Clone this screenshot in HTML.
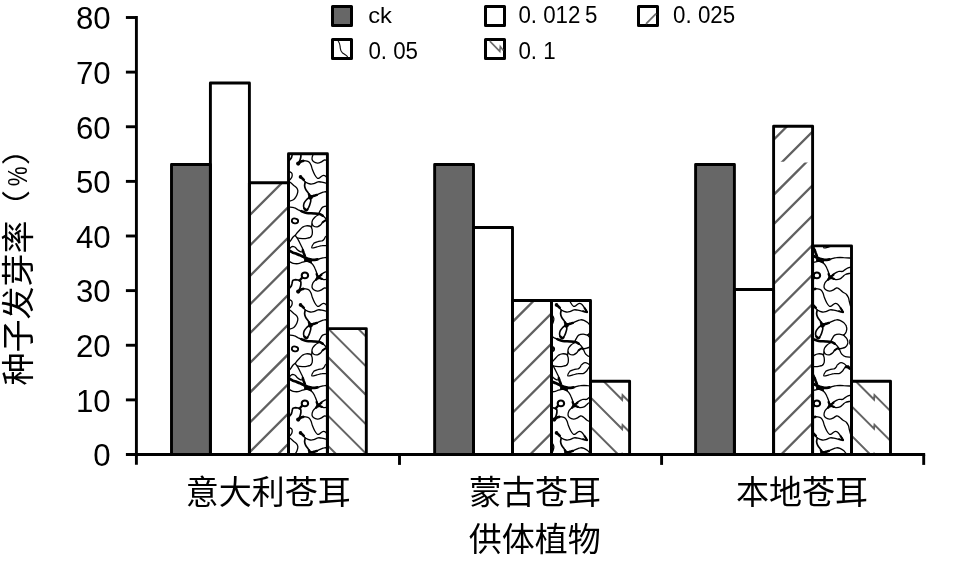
<!DOCTYPE html>
<html lang="zh"><head><meta charset="utf-8"><title>种子发芽率</title>
<style>html,body{margin:0;padding:0;background:#fff}body{width:955px;height:562px;overflow:hidden}svg{display:block}.n{font-family:"Liberation Sans",sans-serif;fill:#000}.c{font-family:"Liberation Sans","Noto Sans CJK SC","WenQuanYi Zen Hei",sans-serif;fill:#000}</style></head><body>
<svg width="955" height="562" viewBox="0 0 955 562">
<rect width="955" height="562" fill="#fff"/>
<defs>
<pattern id="marble" patternUnits="userSpaceOnUse" x="256" y="198" width="128" height="128"><rect width="128" height="128" fill="#fff"/><g transform="translate(-256 -198)"><g id="mb" fill="none" stroke="#000" stroke-linecap="round" stroke-linejoin="round">
<path d="M309.3 197.6C308.6 197.6 307.4 198.8 306.5 199.7C305.6 200.6 304.7 201.8 304.2 202.9C303.7 204.1 303.5 205.4 303.6 206.5C303.7 207.6 304.2 208.9 304.7 209.5C305.2 210.1 306.0 210.6 306.7 210.2C307.3 209.9 308.1 208.5 308.7 207.4C309.3 206.2 309.9 204.5 310.2 203.3C310.6 202.1 310.9 201.0 310.8 200.0C310.6 199.1 310.1 197.6 309.3 197.6Z" stroke-width="1.6"/>
<path d="M304.5 208.5C304.7 208.7 305.3 209.9 305.8 210.1C306.3 210.2 307.1 209.6 307.4 209.5" stroke-width="2.4"/>
<path d="M310.5 324.8C311.1 324.6 313.1 324.1 314.2 323.8C315.4 323.4 316.4 323.1 317.4 322.7C318.3 322.3 319.0 321.9 320.2 321.4C321.4 320.9 323.0 319.9 324.3 319.8C325.6 319.6 326.8 319.8 328.0 320.3C329.2 320.8 330.6 321.7 331.6 322.5C332.6 323.3 333.3 324.5 333.8 325.2C334.3 325.9 334.3 326.1 334.4 326.7C334.6 327.3 334.8 328.0 334.8 328.9C334.7 329.8 334.4 331.1 334.1 332.0C333.7 332.9 333.1 333.7 332.7 334.2C332.2 334.8 331.8 335.0 331.6 335.1" stroke-width="1.3"/>
<path d="M310.5 324.8C311.1 324.6 313.2 324.1 314.2 323.8C315.3 323.5 316.5 323.0 316.9 322.9" stroke-width="2.3"/>
<path d="M331.6 207.1C330.8 207.0 328.6 206.2 327.1 206.2C325.7 206.2 323.8 206.5 322.7 207.1C321.6 207.8 321.1 209.2 320.5 210.2C319.8 211.3 319.0 213.1 318.7 213.6" stroke-width="1.3"/>
<path d="M289.3 207.0C290.1 207.1 292.3 207.1 293.8 207.6C295.3 208.0 296.8 209.0 298.2 209.8C299.7 210.5 301.3 211.5 302.7 212.0C304.1 212.5 304.8 212.7 306.7 212.9C308.5 213.1 311.8 213.3 313.8 213.4C315.8 213.6 317.2 213.6 318.7 214.0C320.2 214.3 321.5 214.8 322.7 215.6C323.9 216.4 325.0 217.6 325.8 218.7C326.6 219.7 326.9 220.5 327.6 221.8C328.3 223.1 328.8 225.1 329.8 226.2C330.8 227.4 331.9 228.3 333.4 228.7C334.8 229.2 337.8 229.0 338.7 229.1" stroke-width="1.3"/>
<path d="M301.3 211.1C302.2 211.4 304.6 212.5 306.7 212.9C308.8 213.3 311.7 213.2 313.8 213.4C315.9 213.6 317.8 213.7 319.3 214.1C320.8 214.4 322.1 215.3 322.7 215.6" stroke-width="2.5"/>
<path d="M331.6 207.1C332.2 207.8 334.5 209.7 335.1 211.1C335.8 212.5 336.0 214.2 335.7 215.6C335.4 216.9 334.5 218.3 333.4 219.1C332.2 219.9 330.0 220.2 328.9 220.5C327.8 220.7 327.1 220.5 326.7 220.5" stroke-width="1.3"/>
<path d="M338.9 210.7C338.7 210.9 338.0 211.2 337.8 212.0C337.6 212.9 337.5 214.9 337.6 215.8C337.8 216.6 338.7 217.1 338.9 217.4" stroke-width="1.0"/>
<path d="M318.7 214.5C318.1 214.9 316.1 216.0 315.1 216.9C314.1 217.8 313.2 218.9 312.6 220.0C312.1 221.1 311.8 222.5 312.0 223.6C312.2 224.6 312.9 225.7 313.8 226.2C314.7 226.8 316.2 227.0 317.4 226.8C318.5 226.6 319.6 225.7 320.5 225.0C321.4 224.3 321.8 223.1 322.7 222.3C323.6 221.5 325.3 220.6 325.8 220.3" stroke-width="1.3"/>
<path d="M322.7 222.3C323.2 222.0 325.0 220.5 325.8 220.3C326.6 220.1 327.1 221.2 327.3 221.4" stroke-width="2.0"/>
<path d="M310.7 226.4C311.7 227.1 311.9 228.5 312.2 229.8C312.4 231.1 312.5 233.0 312.2 234.3C311.9 235.5 311.2 236.7 310.2 237.4C309.3 238.0 307.8 238.1 306.7 238.3C305.6 238.5 305.0 238.6 303.8 238.6C302.6 238.6 300.6 238.4 299.5 238.3C298.4 238.1 297.8 238.2 297.1 237.7C296.4 237.1 295.2 236.3 295.5 235.1C295.9 233.9 297.9 232.0 299.1 230.7C300.3 229.4 301.5 228.0 302.7 227.1C303.9 226.3 304.9 225.9 306.2 225.8C307.6 225.7 309.7 225.8 310.7 226.4Z" stroke-width="1.3"/>
<path d="M312.0 223.8C312.0 224.2 311.7 226.2 311.7 226.7" stroke-width="1.3"/>
<path d="M295.5 235.1C295.1 235.4 293.9 236.2 293.1 237.0C292.3 237.9 291.7 239.2 291.0 240.2C290.3 241.2 289.2 242.5 288.8 242.9" stroke-width="1.3"/>
<path d="M296.9 237.6C297.2 238.0 297.9 239.2 298.4 240.2C299.0 241.2 299.6 242.6 300.2 243.8C300.8 245.0 301.5 246.3 302.0 247.3C302.5 248.4 303.0 249.4 303.1 250.2C303.1 250.9 302.7 251.5 302.2 251.7C301.7 252.0 301.0 251.9 300.2 251.6C299.4 251.3 298.2 250.5 297.4 249.8C296.5 249.1 296.0 247.9 295.2 247.3C294.5 246.7 293.5 246.4 292.8 246.3C292.0 246.3 291.6 246.7 291.0 247.2C290.4 247.6 289.5 248.8 289.2 249.1" stroke-width="1.3"/>
<path d="M302.8 250.3C302.9 250.7 303.3 251.8 303.6 252.7C304.0 253.6 304.6 255.2 304.8 255.7" stroke-width="2.6"/>
<path d="M288.8 250.3C289.6 250.7 291.8 252.1 293.1 252.7C294.4 253.2 295.5 253.4 296.7 253.9C297.8 254.3 299.0 254.7 300.2 255.3C301.4 255.8 302.6 256.5 303.8 257.1C305.0 257.6 306.4 258.2 307.3 258.6C308.3 258.9 308.3 259.0 309.3 259.2C310.4 259.4 312.2 259.9 313.8 259.9C315.4 259.9 317.4 259.4 319.1 259.0C320.9 258.6 322.4 257.9 324.5 257.7C326.5 257.4 329.2 257.5 331.6 257.6C334.0 257.6 337.5 258.0 338.7 258.1" stroke-width="1.3"/>
<path d="M288.8 250.3C289.6 250.7 291.8 252.1 293.1 252.7C294.4 253.2 295.5 253.4 296.7 253.9C297.8 254.3 299.0 254.7 300.2 255.3C301.4 255.8 302.6 256.5 303.8 257.1C305.0 257.6 306.4 258.2 307.3 258.6C308.3 258.9 308.3 259.0 309.3 259.2C310.4 259.4 312.5 259.9 313.8 259.9C315.1 259.9 316.8 259.4 317.4 259.4" stroke-width="2.8"/>
<path d="M288.8 261.2C289.6 261.5 291.6 262.9 293.1 263.3C294.6 263.7 296.5 263.8 298.1 263.7C299.6 263.5 301.1 262.6 302.3 262.2C303.6 261.9 304.6 261.4 305.8 261.3C307.0 261.2 308.2 261.2 309.3 261.7C310.5 262.2 311.5 263.1 312.5 264.2C313.4 265.4 314.4 267.1 315.1 268.7C315.9 270.3 316.4 272.2 316.9 273.6C317.4 275.0 318.0 276.4 318.2 277.0" stroke-width="1.3"/>
<path d="M305.3 260.1C305.8 260.2 307.1 260.3 308.0 260.6C308.9 260.9 310.2 261.8 310.7 262.0" stroke-width="2.8"/>
<path d="M311.8 247.8C311.3 247.2 312.8 244.4 313.8 243.3C314.8 242.3 316.4 242.0 317.8 241.6C319.2 241.1 321.1 241.3 322.2 240.8C323.4 240.4 324.0 239.4 324.5 238.7C325.0 238.1 324.6 237.6 325.4 236.9C326.1 236.3 327.7 234.8 328.9 234.7C330.1 234.6 331.4 235.4 332.5 236.0C333.5 236.7 334.3 237.9 335.1 238.7C336.0 239.5 337.7 241.0 337.8 240.9C338.0 240.9 336.9 238.7 336.0 238.4C335.2 238.2 333.9 238.8 332.9 239.6C332.0 240.4 331.2 242.3 330.3 243.3C329.3 244.3 328.5 245.2 327.1 245.6C325.8 245.9 324.0 245.4 322.2 245.7C320.5 245.9 318.6 246.5 316.9 246.9C315.2 247.3 312.4 248.4 311.8 247.8Z" stroke-width="1.25"/>
<path d="M335.1 238.7C335.6 239.1 337.7 241.0 337.8 240.9C338.0 240.9 336.7 238.8 336.0 238.4C335.4 238.1 334.2 239.0 333.8 239.1" stroke-width="2.4"/>
<path d="M318.2 277.1C318.8 276.6 320.5 275.0 321.8 274.0C323.1 273.1 324.8 271.9 326.2 271.5C327.7 271.0 329.4 271.8 330.7 271.4C332.0 270.9 332.9 269.5 334.3 268.8C335.6 268.1 338.0 267.4 338.7 267.2" stroke-width="1.3"/>
<path d="M319.0 278.0C319.7 278.3 322.1 279.3 323.6 279.5C325.1 279.6 326.8 279.4 328.0 278.9C329.2 278.5 329.8 277.5 330.7 276.8C331.6 276.0 332.0 275.1 333.4 274.5C334.7 273.9 337.8 273.4 338.7 273.1" stroke-width="1.3"/>
<path d="M316.6 274.0C316.9 274.6 317.5 277.2 318.2 277.3C319.0 277.4 320.8 275.1 321.4 274.7" stroke-width="2.3"/>
<path d="M316.0 279.8C316.4 279.4 317.3 277.7 318.2 277.6C319.2 277.4 321.2 278.7 321.8 278.9" stroke-width="2.3"/>
<path d="M317.5 278.5C317.1 278.8 315.9 279.7 315.1 280.4C314.4 281.2 313.4 282.0 312.9 283.1C312.4 284.2 311.9 286.0 312.0 287.1C312.2 288.2 312.9 289.1 313.8 289.8C314.7 290.5 316.2 291.0 317.4 291.1C318.5 291.2 319.7 290.8 320.9 290.2C322.1 289.7 323.4 288.2 324.5 288.0C325.5 287.8 326.1 288.2 327.1 288.9C328.2 289.6 329.5 291.1 330.7 292.0C331.9 292.9 333.3 293.3 334.3 294.2C335.2 295.2 335.9 296.5 336.5 297.8C337.0 299.1 337.1 300.9 337.5 302.2C337.8 303.6 338.3 305.4 338.5 306.0" stroke-width="1.3"/>
<path d="M298.2 291.6C298.7 291.2 300.1 290.1 300.9 289.6C301.7 289.2 302.8 289.0 303.1 288.9" stroke-width="2.6"/>
<path d="M298.2 291.6C298.8 291.2 300.5 289.5 301.8 289.1C303.1 288.6 304.5 288.7 305.8 288.9C307.1 289.1 308.5 289.5 309.3 290.2C310.2 291.0 310.6 292.1 311.1 293.3C311.6 294.6 311.9 296.2 312.5 297.8C313.1 299.4 313.9 301.3 314.7 302.7C315.5 304.1 316.5 305.7 317.4 306.2C318.2 306.8 318.7 306.2 319.6 305.8C320.5 305.4 321.7 303.9 322.7 303.6C323.7 303.3 324.5 303.4 325.4 304.0C326.2 304.6 327.2 306.0 328.0 307.1C328.8 308.2 329.8 309.8 330.3 310.7C330.7 311.5 330.8 312.0 330.9 312.2" stroke-width="1.3"/>
<path d="M330.9 312.2C330.1 312.0 327.8 311.5 326.2 311.1C324.7 310.8 323.1 310.5 321.8 310.2C320.5 310.0 319.6 309.6 318.2 309.8C316.9 310.0 315.1 311.2 313.8 311.6C312.5 312.0 311.6 312.3 310.2 312.0C308.9 311.8 307.0 311.0 305.8 310.2C304.6 309.5 304.0 308.6 303.1 307.8C302.2 306.9 300.9 305.4 300.5 304.9" stroke-width="1.3"/>
<path d="M328.5 308.0C328.8 308.5 329.9 310.0 330.3 310.7C330.7 311.4 331.4 312.1 330.9 312.2C330.4 312.3 327.8 311.5 327.1 311.3" stroke-width="2.0"/>
<path d="M300.5 304.9C300.8 305.1 301.7 305.9 302.2 306.3C302.8 306.8 303.5 307.5 303.8 307.8" stroke-width="2.6"/>
<path d="M305.2 310.1C305.1 310.7 304.6 312.6 304.6 313.8C304.7 315.0 305.1 316.2 305.7 317.4C306.3 318.6 307.4 319.7 308.2 320.9C309.0 322.1 310.1 323.9 310.5 324.5" stroke-width="1.7"/>
<path d="M308.9 322.3C309.2 322.7 309.7 324.6 310.4 324.8C311.2 325.1 312.9 324.0 313.4 323.8" stroke-width="2.3"/>
<path d="M288.4 299.4C289.0 299.6 290.9 300.2 291.6 300.9C292.2 301.6 292.3 302.6 292.2 303.6C292.1 304.5 291.6 305.8 290.9 306.7C290.3 307.6 288.9 308.6 288.4 309.0" stroke-width="1.3"/>
<path d="M288.4 308.6C288.9 309.1 290.2 310.4 291.1 311.1C292.0 311.9 292.9 312.6 293.8 313.4C294.7 314.1 295.8 314.8 296.5 315.6C297.1 316.4 297.6 317.2 297.8 318.3C297.9 319.3 297.7 320.6 297.3 321.8C297.0 323.0 296.3 324.3 295.6 325.4C294.8 326.4 294.1 327.4 292.9 328.0C291.7 328.7 289.2 329.2 288.4 329.5" stroke-width="1.3"/>
<path d="M288.4 289.3C288.9 288.8 290.5 287.2 291.1 286.2C291.7 285.3 291.7 284.5 292.0 283.6C292.3 282.6 292.3 281.1 292.9 280.4C293.5 279.8 294.6 279.7 295.6 279.6C296.5 279.6 297.8 280.0 298.7 280.2C299.5 280.4 300.2 280.2 300.5 280.9C300.9 281.6 301.0 283.3 300.9 284.4C300.8 285.6 300.4 286.9 300.0 288.0C299.6 289.1 298.7 290.6 298.4 291.1" stroke-width="1.7"/>
<path d="M301.8 278.0C301.4 278.5 299.9 280.1 299.6 280.5" stroke-width="2.4"/>
<ellipse cx="304.9" cy="275.4" rx="3.2" ry="2.9" transform="rotate(0 304.9 275.4)" stroke-width="2.1"/>
<ellipse cx="318.2" cy="277.4" rx="2.0" ry="2.0" fill="#000" stroke="none"/>
<ellipse cx="298.2" cy="291.6" rx="2.1" ry="2.1" fill="#000" stroke="none"/>
<ellipse cx="300.5" cy="304.9" rx="1.8" ry="1.8" fill="#000" stroke="none"/>
<ellipse cx="310.4" cy="325.2" rx="2.4" ry="2.4" fill="#000" stroke="none"/>
<ellipse cx="295.0" cy="220.9" rx="3.2" ry="2.4" transform="rotate(10 295.0 220.9)" stroke-width="1.8"/>
</g><use href="#mb" y="-128"/><use href="#mb" y="128"/><use href="#mb" x="-128"/><use href="#mb" x="128"/></g></pattern>
</defs>
<clipPath id="k00"><rect x="171.50" y="164.55" width="38.90" height="289.95"/></clipPath>
<rect x="171.50" y="164.55" width="38.90" height="289.95" fill="#676767"/>
<clipPath id="k01"><rect x="210.40" y="83.05" width="39.00" height="371.45"/></clipPath>
<clipPath id="k02"><rect x="249.40" y="182.74" width="39.10" height="271.76"/></clipPath>
<g clip-path="url(#k02)" stroke="#606060" stroke-width="2.3" fill="none"><line x1="287.2" y1="177.7" x2="5.4" y2="459.5"/><line x1="317.6" y1="177.7" x2="35.8" y2="459.5"/><line x1="348.1" y1="177.7" x2="66.3" y2="459.5"/><line x1="376.6" y1="177.7" x2="94.8" y2="459.5"/><line x1="405.4" y1="177.7" x2="123.6" y2="459.5"/><line x1="435.1" y1="177.7" x2="153.3" y2="459.5"/><line x1="464.8" y1="177.7" x2="183.0" y2="459.5"/><line x1="494.7" y1="177.7" x2="212.9" y2="459.5"/><line x1="524.2" y1="177.7" x2="242.4" y2="459.5"/><line x1="554.5" y1="177.7" x2="272.7" y2="459.5"/></g>
<clipPath id="k03"><rect x="288.50" y="153.79" width="38.90" height="300.71"/></clipPath>
<rect x="288.50" y="153.79" width="38.90" height="300.71" fill="url(#marble)"/>
<clipPath id="k04"><rect x="327.40" y="328.59" width="38.90" height="125.91"/></clipPath>
<g clip-path="url(#k04)" stroke="#646464" stroke-width="2.0" fill="none"><line x1="322.4" y1="293.0" x2="371.3" y2="341.9"/><line x1="322.4" y1="322.8" x2="371.3" y2="371.7"/><line x1="322.4" y1="351.4" x2="371.3" y2="400.3"/><line x1="322.4" y1="380.8" x2="371.3" y2="429.7"/><line x1="322.4" y1="410.0" x2="371.3" y2="458.9"/><line x1="322.4" y1="440.3" x2="371.3" y2="489.2"/></g>
<path d="M171.50 454.50V164.55H210.40V454.50" fill="none" stroke="#000" stroke-width="2.9" stroke-linejoin="round"/>
<path d="M210.40 454.50V83.05H249.40V454.50" fill="none" stroke="#000" stroke-width="2.9" stroke-linejoin="round"/>
<path d="M249.40 454.50V182.74H288.50V454.50" fill="none" stroke="#000" stroke-width="2.9" stroke-linejoin="round"/>
<path d="M288.50 454.50V153.79H327.40V454.50" fill="none" stroke="#000" stroke-width="2.9" stroke-linejoin="round"/>
<path d="M327.40 454.50V328.59H366.30V454.50" fill="none" stroke="#000" stroke-width="2.9" stroke-linejoin="round"/>
<clipPath id="k10"><rect x="434.65" y="164.55" width="38.85" height="289.95"/></clipPath>
<rect x="434.65" y="164.55" width="38.85" height="289.95" fill="#676767"/>
<clipPath id="k11"><rect x="473.50" y="227.53" width="39.00" height="226.97"/></clipPath>
<clipPath id="k12"><rect x="512.50" y="300.46" width="39.00" height="154.04"/></clipPath>
<g clip-path="url(#k12)" stroke="#606060" stroke-width="2.3" fill="none"><line x1="539.0" y1="295.5" x2="375.0" y2="459.5"/><line x1="569.3" y1="295.5" x2="405.3" y2="459.5"/><line x1="599.6" y1="295.5" x2="435.6" y2="459.5"/><line x1="629.9" y1="295.5" x2="465.9" y2="459.5"/><line x1="659.3" y1="295.5" x2="495.3" y2="459.5"/><line x1="689.1" y1="295.5" x2="525.1" y2="459.5"/></g>
<clipPath id="k13"><rect x="551.50" y="300.46" width="39.00" height="154.04"/></clipPath>
<rect x="551.50" y="300.46" width="39.00" height="154.04" fill="url(#marble)"/>
<clipPath id="k14"><rect x="590.50" y="381.30" width="39.10" height="73.20"/></clipPath>
<g clip-path="url(#k14)" stroke="#646464" stroke-width="2.0" fill="none" stroke-linejoin="miter" stroke-miterlimit="10"><polyline points="585.5,363.1 622.1,399.7 622.6,395.2 634.6,407.2"/><polyline points="585.5,392.4 622.1,429.0 622.6,425.1 634.6,437.1"/><polyline points="585.5,421.8 622.1,458.4 622.6,454.1 634.6,466.1"/></g>
<path d="M434.65 454.50V164.55H473.50V454.50" fill="none" stroke="#000" stroke-width="2.9" stroke-linejoin="round"/>
<path d="M473.50 454.50V227.53H512.50V454.50" fill="none" stroke="#000" stroke-width="2.9" stroke-linejoin="round"/>
<path d="M512.50 454.50V300.46H551.50V454.50" fill="none" stroke="#000" stroke-width="2.9" stroke-linejoin="round"/>
<path d="M551.50 454.50V300.46H590.50V454.50" fill="none" stroke="#000" stroke-width="2.9" stroke-linejoin="round"/>
<path d="M590.50 454.50V381.30H629.60V454.50" fill="none" stroke="#000" stroke-width="2.9" stroke-linejoin="round"/>
<clipPath id="k20"><rect x="695.60" y="164.44" width="38.80" height="290.06"/></clipPath>
<rect x="695.60" y="164.44" width="38.80" height="290.06" fill="#676767"/>
<clipPath id="k21"><rect x="734.40" y="289.53" width="39.20" height="164.97"/></clipPath>
<clipPath id="k22"><rect x="773.60" y="126.20" width="39.00" height="328.30"/></clipPath>
<clipPath id="k22a"><rect x="773.60" y="126.20" width="39.00" height="35.50"/></clipPath>
<clipPath id="k22b"><rect x="773.60" y="162.50" width="39.00" height="292.00"/></clipPath>
<g clip-path="url(#k22a)" stroke="#606060" stroke-width="2.3" fill="none"><line x1="792.2" y1="121.2" x2="453.9" y2="459.5"/><line x1="822.9" y1="121.2" x2="484.6" y2="459.5"/></g>
<g clip-path="url(#k22b)" stroke="#606060" stroke-width="2.3" fill="none"><line x1="847.3" y1="121.2" x2="509.0" y2="459.5"/><line x1="876.7" y1="121.2" x2="538.4" y2="459.5"/><line x1="907.0" y1="121.2" x2="568.7" y2="459.5"/><line x1="936.4" y1="121.2" x2="598.1" y2="459.5"/><line x1="966.1" y1="121.2" x2="627.8" y2="459.5"/><line x1="995.5" y1="121.2" x2="657.2" y2="459.5"/><line x1="1025.2" y1="121.2" x2="686.9" y2="459.5"/><line x1="1055.5" y1="121.2" x2="717.2" y2="459.5"/><line x1="1084.9" y1="121.2" x2="746.6" y2="459.5"/><line x1="1114.5" y1="121.2" x2="776.2" y2="459.5"/></g>
<clipPath id="k23"><rect x="812.60" y="245.83" width="38.90" height="208.67"/></clipPath>
<rect x="812.60" y="245.83" width="38.90" height="208.67" fill="url(#marble)"/>
<clipPath id="k24"><rect x="851.50" y="381.30" width="39.00" height="73.20"/></clipPath>
<g clip-path="url(#k24)" stroke="#646464" stroke-width="2.0" fill="none" stroke-linejoin="miter" stroke-miterlimit="10"><polyline points="846.5,372.0 874.0,399.5 874.5,395.1 895.5,416.1"/><polyline points="846.5,401.2 874.0,428.7 874.5,424.8 895.5,445.8"/><polyline points="846.5,430.7 874.0,458.2 874.5,454.0 895.5,475.0"/></g>
<path d="M695.60 454.50V164.44H734.40V454.50" fill="none" stroke="#000" stroke-width="2.9" stroke-linejoin="round"/>
<path d="M734.40 454.50V289.53H773.60V454.50" fill="none" stroke="#000" stroke-width="2.9" stroke-linejoin="round"/>
<path d="M773.60 454.50V126.20H812.60V454.50" fill="none" stroke="#000" stroke-width="2.9" stroke-linejoin="round"/>
<path d="M812.60 454.50V245.83H851.50V454.50" fill="none" stroke="#000" stroke-width="2.9" stroke-linejoin="round"/>
<path d="M851.50 454.50V381.30H890.50V454.50" fill="none" stroke="#000" stroke-width="2.9" stroke-linejoin="round"/>
<g stroke="#000" stroke-width="2.9" fill="none">
<path d="M136.4 16.05V464.8"/>
<path d="M125.9 454.5H925.15"/>
<path d="M125.9 17.50H136.4"/>
<path d="M125.9 72.12H136.4"/>
<path d="M125.9 126.75H136.4"/>
<path d="M125.9 181.38H136.4"/>
<path d="M125.9 236.00H136.4"/>
<path d="M125.9 290.62H136.4"/>
<path d="M125.9 345.25H136.4"/>
<path d="M125.9 399.88H136.4"/>
<path d="M399.5 454.5V464.9"/>
<path d="M661.6 454.5V464.9"/>
<path d="M923.7 454.5V464.9"/>
</g>
<text class="n" x="110.7" y="29.30" font-size="31.2" text-anchor="end">80</text>
<text class="n" x="110.7" y="83.92" font-size="31.2" text-anchor="end">70</text>
<text class="n" x="110.7" y="138.55" font-size="31.2" text-anchor="end">60</text>
<text class="n" x="110.7" y="193.18" font-size="31.2" text-anchor="end">50</text>
<text class="n" x="110.7" y="247.80" font-size="31.2" text-anchor="end">40</text>
<text class="n" x="110.7" y="302.43" font-size="31.2" text-anchor="end">30</text>
<text class="n" x="110.7" y="357.05" font-size="31.2" text-anchor="end">20</text>
<text class="n" x="110.7" y="411.68" font-size="31.2" text-anchor="end">10</text>
<text class="n" x="110.7" y="466.30" font-size="31.2" text-anchor="end">0</text>
<text class="c" x="268.2" y="503.5" font-size="33" text-anchor="middle">意大利苍耳</text>
<text class="c" x="535.0" y="503.5" font-size="33" text-anchor="middle">蒙古苍耳</text>
<text class="c" x="801.9" y="503.5" font-size="33" text-anchor="middle">本地苍耳</text>
<text class="c" x="534.8" y="550.5" font-size="33" text-anchor="middle">供体植物</text>
<g transform="translate(29.6 385.6) rotate(-90)"><text class="c" x="0" y="0" font-size="33">种子发芽率</text><text class="c" transform="translate(162.7 -3.0) scale(1 0.872)" font-size="33">（</text><text class="n" transform="translate(199.3 -2.2) scale(0.80 1)" font-size="28">%</text><text class="c" transform="translate(220.3 -3.0) scale(1 0.872)" font-size="33">）</text></g>
<rect x="332.5" y="6.5" width="19" height="19" fill="#676767" stroke="#000" stroke-width="3" stroke-linejoin="round"/>
<rect x="485.5" y="6.5" width="19" height="19" fill="#fff" stroke="#000" stroke-width="3" stroke-linejoin="round"/>
<rect x="638.5" y="6.5" width="19" height="19" fill="#fff" stroke="#000" stroke-width="3" stroke-linejoin="round"/>
<path d="M646.0 23.9L656.1 13.6" stroke="#6c6c6c" stroke-width="1.8" fill="none"/>
<rect x="332.5" y="39.5" width="19" height="19" fill="#fff" stroke="#000" stroke-width="3" stroke-linejoin="round"/>
<path d="M338.0 41.1C339.6 42.3 340.1 45.5 340.3 48.3C340.5 50.6 341.2 51.8 342.6 53.0C344.4 54.4 346.4 55.3 347.7 56.9" stroke="#111" stroke-width="1.15" fill="none"/>
<rect x="485.5" y="39.5" width="19" height="19" fill="#fff" stroke="#000" stroke-width="3" stroke-linejoin="round"/>
<path d="M489.8 41.1L499.8 51.4L500.3 46.5L503.3 50.4" stroke="#6c6c6c" stroke-width="1.6" fill="none"/>
<text class="n" transform="translate(368.2 23.3) scale(1.05 1)" font-size="22.6">ck</text>
<text class="n" transform="translate(518.4 23.4) scale(0.915 1)" font-size="24.4">0. 012<tspan dx="5">5</tspan></text>
<text class="n" transform="translate(673.1 23.4) scale(0.915 1)" font-size="24.4">0. 025</text>
<text class="n" transform="translate(368.4 58.5) scale(0.915 1)" font-size="24.4">0. 05</text>
<text class="n" transform="translate(518.4 58.5) scale(0.915 1)" font-size="24.4">0. 1</text>
</svg></body></html>
